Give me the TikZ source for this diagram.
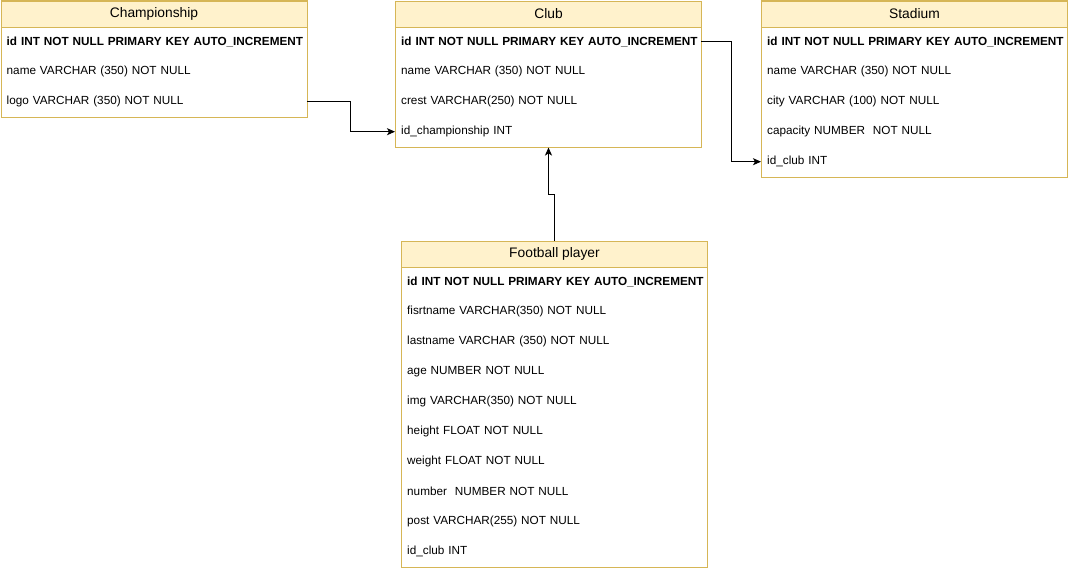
\documentclass[tikz,border=0pt]{standalone}
\usepackage{fontspec}
\setmainfont{Liberation Sans}
\usetikzlibrary{arrows.meta}
\definecolor{dborder}{HTML}{D6B656}
\definecolor{hfill}{HTML}{FFF2CC}
\tikzset{
  tbl/.style={draw=dborder, fill=white, anchor=north west, inner sep=0pt, line width=1pt, minimum width=306pt},
  hdr/.style={draw=dborder, fill=hfill, anchor=north west, inner sep=0pt, line width=1pt, minimum width=306pt, minimum height=26pt, font=\fontsize{13.8}{16}\selectfont},
  row/.style={anchor=north west, minimum height=30pt, text width=294pt, align=left, inner xsep=6pt, inner ysep=0pt, font=\fontsize{11.75}{14}\selectfont},
  pk/.style={row, font=\bfseries\fontsize{11.75}{14}\selectfont},
  conn/.style={draw=black, line width=1pt, -{Stealth[length=8pt, width=7pt, inset=2pt]}}
}
\begin{document}
\begin{tikzpicture}[x=1pt, y=-1pt]
\useasboundingbox (0,0) rectangle (1068,570);
% Championship
\node[tbl, minimum height=116pt] (ch) at (0.5,0.5) {};
\node[hdr] (chh) at (0.5,0.5) {Championship};
\node[pk]  (ch1) at (0.5,26.5) {\mbox{id INT NOT NULL PRIMARY KEY AUTO\_INCREMENT}};
\node[row] (ch2) at (0.5,56.5) {name VARCHAR (350) NOT NULL};
\node[row] (ch3) at (0.5,86.5) {logo VARCHAR (350) NOT NULL};
% Club
\node[tbl, minimum height=146pt] (cl) at (395,0.5) {};
\node[hdr] (clh) at (395,0.5) {Club};
\node[pk]  (cl1) at (395,26.5) {\mbox{id INT NOT NULL PRIMARY KEY AUTO\_INCREMENT}};
\node[row] (cl2) at (395,56.5) {name VARCHAR (350) NOT NULL};
\node[row] (cl3) at (395,86.5) {crest VARCHAR(250) NOT NULL};
\node[row] (cl4) at (395,116.5) {id\_championship INT};
% Stadium
\node[tbl, minimum height=176pt] (st) at (761,0.5) {};
\node[hdr] (sth) at (761,0.5) {Stadium};
\node[pk]  (st1) at (761,26.5) {\mbox{id INT NOT NULL PRIMARY KEY AUTO\_INCREMENT}};
\node[row] (st2) at (761,56.5) {name VARCHAR (350) NOT NULL};
\node[row] (st3) at (761,86.5) {city VARCHAR (100) NOT NULL};
\node[row] (st4) at (761,116.5) {capacity NUMBER\ \ NOT NULL};
\node[row] (st5) at (761,146.5) {id\_club INT};
% Football player
\node[tbl, minimum height=326pt] (fp) at (401,240.5) {};
\node[hdr] (fph) at (401,240.5) {Football player};
\node[pk]  (fp1) at (401,266.5) {\mbox{id INT NOT NULL PRIMARY KEY AUTO\_INCREMENT}};
\node[row] (fp2) at (401,296.5) {fisrtname VARCHAR(350) NOT NULL};
\node[row] (fp3) at (401,326.5) {lastname VARCHAR (350) NOT NULL};
\node[row] (fp4) at (401,356.5) {age NUMBER NOT NULL};
\node[row] (fp5) at (401,386.5) {img VARCHAR(350) NOT NULL};
\node[row] (fp6) at (401,416.5) {height FLOAT NOT NULL};
\node[row] (fp7) at (401,446.5) {weight FLOAT NOT NULL};
\node[row] (fp8) at (401,476.5) {number\ \ NUMBER NOT NULL};
\node[row] (fp9) at (401,506.5) {post VARCHAR(255) NOT NULL};
\node[row] (fp10) at (401,536.5) {id\_club INT};
% Connectors
\draw[conn] (ch3.east) -- ++(44,0) |- (cl4.west);
\draw[conn] (cl1.east) -- ++(30,0) |- (st5.west);
\draw[conn] (fph.north) -- ++(0,-46) -| (cl.south);
\end{tikzpicture}
\end{document}
